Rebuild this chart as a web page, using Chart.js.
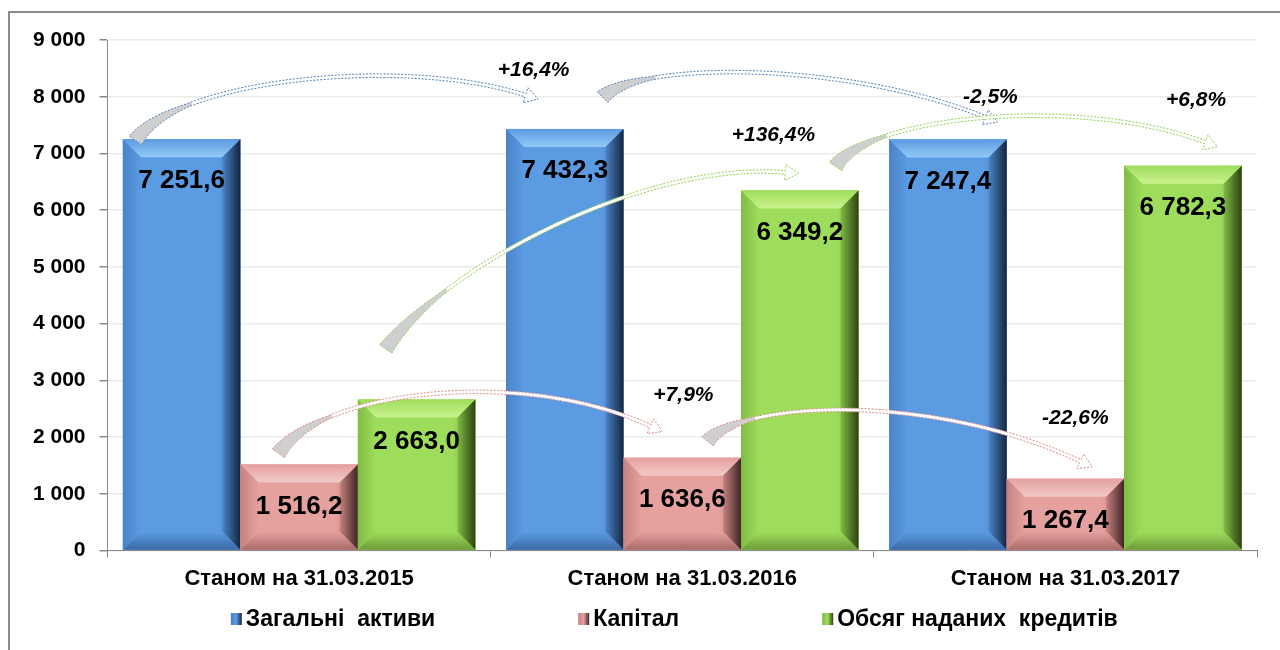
<!DOCTYPE html>
<html>
<head>
<meta charset="utf-8">
<script src="https://cdn.jsdelivr.net/npm/chart.js@4.4.1/dist/chart.umd.min.js"></script>
<style>
  body { margin: 0; background: #fff; }
  canvas { display: block; }
</style>
</head>
<body>
<canvas id="myChart" width="1280" height="650"></canvas>
<script>
// chart values
var categories = ['Станом на 31.03.2015', 'Станом на 31.03.2016', 'Станом на 31.03.2017'];
var seriesNames = ['Загальні  активи', 'Капітал', 'Обсяг наданих  кредитів'];
var assets = [7251.6, 7432.3, 7247.4];
var capital = [1516.2, 1636.6, 1267.4];
var loans = [2663.0, 6349.2, 6782.3];
var assetsChange = ['+16,4%', '-2,5%'];
var capitalChange = ['+7,9%', '-22,6%'];
var loansChange = ['+136,4%', '+6,8%'];
var yMax = 9000;
var yStep = 1000;

// colours for each series: face, top bevel, left bevel, right bevel, bottom bevel, arrow line
var palette = [
  { face: '#5b9be2', top: '#93c9f6', left: '#4a83c8', right: '#14263f', bottom: '#3b6aa6', line: '#4f81bd' },
  { face: '#e4a19e', top: '#f3c9c7', left: '#c6827f', right: '#3d2524', bottom: '#a86a68', line: '#e08a86' },
  { face: '#9edd5c', top: '#c9f28c', left: '#80bb45', right: '#2c4212', bottom: '#6b9a37', line: '#8fd14f' }
];

// curved arrows, in (category index, value) space: 4 bezier points + label anchor
var arrowShapes = [
  [
    { pts: [[-0.427, 7232], [-0.322, 8293], [0.265, 8735], [0.591, 8028]], label: [0.612, 8470] },
    { pts: [[0.792, 7992], [0.891, 8647], [1.439, 8611], [1.791, 7639]], label: [1.804, 7992] }
  ],
  [
    { pts: [[-0.054, 1715], [0.056, 2811], [0.578, 3253], [0.917, 2193]], label: [1.003, 2741] },
    { pts: [[1.066, 1927], [1.152, 2635], [1.648, 2811], [2.039, 1574]], label: [2.026, 2334] }
  ],
  [
    { pts: [[0.226, 3554], [0.369, 4933], [0.891, 6878], [1.269, 6666]], label: [1.238, 7320] },
    { pts: [[1.400, 6772], [1.491, 7674], [2.039, 8027], [2.365, 7197]], label: [2.341, 7939] }
  ]
];
var changes = [assetsChange, capitalChange, loansChange];

function fmt(v, dec) {
  var s = v.toFixed(dec).split('.');
  var n = s[0].replace(/\B(?=(\d{3})+(?!\d))/g, ' ');
  return s.length > 1 ? n + ',' + s[1] : n;
}

function bez(p, t) {
  var u = 1 - t;
  return {
    x: u*u*u*p[0].x + 3*u*u*t*p[1].x + 3*u*t*t*p[2].x + t*t*t*p[3].x,
    y: u*u*u*p[0].y + 3*u*u*t*p[1].y + 3*u*t*t*p[2].y + t*t*t*p[3].y
  };
}
function bezD(p, t) {
  var u = 1 - t;
  return {
    x: 3*u*u*(p[1].x - p[0].x) + 6*u*t*(p[2].x - p[1].x) + 3*t*t*(p[3].x - p[2].x),
    y: 3*u*u*(p[1].y - p[0].y) + 6*u*t*(p[2].y - p[1].y) + 3*t*t*(p[3].y - p[2].y)
  };
}

function drawBevelBar(ctx, el, c) {
  var l = el.x - el.width / 2, r = el.x + el.width / 2, t = el.y, b = el.base;
  var d = Math.min(18, (b - t) / 2);
  // face
  var g = ctx.createLinearGradient(l, 0, r, 0);
  g.addColorStop(0, c.face);
  g.addColorStop(0.35, c.face);
  g.addColorStop(0.8, c.face);
  g.addColorStop(1, c.left);
  ctx.fillStyle = g;
  ctx.fillRect(l, t, r - l, b - t);
  // top
  g = ctx.createLinearGradient(0, t, 0, t + d);
  g.addColorStop(0, c.face);
  g.addColorStop(1, c.top);
  ctx.fillStyle = g;
  ctx.beginPath();
  ctx.moveTo(l, t); ctx.lineTo(r, t); ctx.lineTo(r - d, t + d); ctx.lineTo(l + d, t + d);
  ctx.closePath(); ctx.fill();
  // left
  g = ctx.createLinearGradient(l, 0, l + d, 0);
  g.addColorStop(0, c.left);
  g.addColorStop(1, c.face);
  ctx.fillStyle = g;
  ctx.beginPath();
  ctx.moveTo(l, t); ctx.lineTo(l + d, t + d); ctx.lineTo(l + d, b - d); ctx.lineTo(l, b);
  ctx.closePath(); ctx.fill();
  // right
  g = ctx.createLinearGradient(r - d, 0, r, 0);
  g.addColorStop(0, c.left);
  g.addColorStop(1, c.right);
  ctx.fillStyle = g;
  ctx.beginPath();
  ctx.moveTo(r, t); ctx.lineTo(r, b); ctx.lineTo(r - d, b - d); ctx.lineTo(r - d, t + d);
  ctx.closePath(); ctx.fill();
  // bottom
  g = ctx.createLinearGradient(0, b - d, 0, b);
  g.addColorStop(0, c.face);
  g.addColorStop(1, c.bottom);
  ctx.fillStyle = g;
  ctx.beginPath();
  ctx.moveTo(l, b); ctx.lineTo(r, b); ctx.lineTo(r - d, b - d); ctx.lineTo(l + d, b - d);
  ctx.closePath(); ctx.fill();
}

function drawArrow(ctx, p, color) {
  var N = 80, up = [], lo = [], i;
  for (i = 0; i <= N; i++) {
    var t = i / N;
    var pt = bez(p, t), dv = bezD(p, t);
    var len = Math.sqrt(dv.x * dv.x + dv.y * dv.y);
    var nx = -dv.y / len, ny = dv.x / len;
    var w = t < 0.22 ? 15 - 11.5 * (t / 0.22) : 3.5;
    up.push({ x: pt.x + nx * w / 2, y: pt.y + ny * w / 2 });
    lo.push({ x: pt.x - nx * w / 2, y: pt.y - ny * w / 2 });
  }
  var end = p[3], de = bezD(p, 1);
  var dl = Math.sqrt(de.x * de.x + de.y * de.y);
  var dx = de.x / dl, dy = de.y / dl, nx2 = -dy, ny2 = dx;
  function outline() {
    ctx.beginPath();
    ctx.moveTo(up[0].x, up[0].y);
    for (i = 1; i <= N; i++) ctx.lineTo(up[i].x, up[i].y);
    ctx.lineTo(end.x + nx2 * 8, end.y + ny2 * 8);
    ctx.lineTo(end.x + dx * 13, end.y + dy * 13);
    ctx.lineTo(end.x - nx2 * 8, end.y - ny2 * 8);
    for (i = N; i >= 0; i--) ctx.lineTo(lo[i].x, lo[i].y);
    ctx.closePath();
  }
  ctx.save();
  outline();
  ctx.fillStyle = '#ffffff';
  ctx.fill();
  // grey underside near the tail
  var k = Math.round(N * 0.24);
  ctx.beginPath();
  ctx.moveTo(up[0].x, up[0].y);
  for (i = 1; i <= k; i++) ctx.lineTo(up[i].x, up[i].y);
  for (i = k; i >= 0; i--) ctx.lineTo(lo[i].x, lo[i].y);
  ctx.closePath();
  ctx.fillStyle = '#cfcfcf';
  ctx.fill();
  // dashed outline
  outline();
  ctx.setLineDash([2, 1.5]);
  ctx.lineWidth = 1;
  ctx.strokeStyle = color;
  ctx.stroke();
  ctx.restore();
}

var decorPlugin = {
  id: 'decor',
  beforeDraw: function(chart) {
    var ctx = chart.ctx;
    ctx.save();
    ctx.fillStyle = '#fff';
    ctx.fillRect(0, 0, chart.width, chart.height);
    ctx.strokeStyle = '#8a8a8a';
    ctx.lineWidth = 2;
    ctx.beginPath();
    ctx.moveTo(9, chart.height); ctx.lineTo(9, 12); ctx.lineTo(chart.width, 12);
    ctx.stroke();
    ctx.restore();
  },
  afterDatasetsDraw: function(chart) {
    var ctx = chart.ctx, xs = chart.scales.x, ys = chart.scales.y;
    ctx.save();
    chart.data.datasets.forEach(function(ds, di) {
      chart.getDatasetMeta(di).data.forEach(function(el) {
        drawBevelBar(ctx, el, palette[di]);
      });
    });
    // value labels
    ctx.fillStyle = '#000';
    ctx.font = 'bold 26px "Liberation Sans", Arial, sans-serif';
    ctx.textAlign = 'center';
    ctx.textBaseline = 'middle';
    chart.data.datasets.forEach(function(ds, di) {
      chart.getDatasetMeta(di).data.forEach(function(el, i) {
        ctx.fillText(fmt(ds.data[i], 1), el.x, el.y + 42);
      });
    });
    // arrows and change labels
    arrowShapes.forEach(function(list, di) {
      list.forEach(function(a, j) {
        var p = a.pts.map(function(q) { return { x: xs.getPixelForValue(q[0]), y: ys.getPixelForValue(q[1]) }; });
        drawArrow(ctx, p, palette[di].line);
        ctx.fillStyle = '#000';
        ctx.font = 'italic bold 21px "Liberation Sans", Arial, sans-serif';
        ctx.fillText(changes[di][j], xs.getPixelForValue(a.label[0]), ys.getPixelForValue(a.label[1]));
      });
    });
    ctx.restore();
  },
  afterDraw: function(chart) {
    // legend
    var ctx = chart.ctx, area = chart.chartArea;
    ctx.save();
    ctx.font = 'bold 23px "Liberation Sans", Arial, sans-serif';
    ctx.textBaseline = 'middle';
    ctx.textAlign = 'left';
    var gap = 143, box = 11, pad = 4;
    var widths = seriesNames.map(function(n) { return box + pad + ctx.measureText(n).width; });
    var total = widths.reduce(function(a, b) { return a + b; }, 0) + gap * (widths.length - 1);
    var x = (area.left + area.right) / 2 - 8 - total / 2;
    var y = 619;
    seriesNames.forEach(function(n, i) {
      var c = palette[i];
      var g = ctx.createLinearGradient(x, 0, x + box, 0);
      g.addColorStop(0, c.left); g.addColorStop(0.5, c.face); g.addColorStop(1, c.right);
      ctx.fillStyle = g;
      ctx.fillRect(x, y - 6, box, 12);
      ctx.fillStyle = '#000';
      ctx.fillText(n, x + box + pad, y + 1);
      x += widths[i] + gap;
    });
    ctx.restore();
  }
};

var ctx = document.getElementById('myChart').getContext('2d');
var myChart = new Chart(ctx, {
  type: 'bar',
  data: {
    labels: categories,
    datasets: [
      { label: seriesNames[0], data: assets, backgroundColor: palette[0].face },
      { label: seriesNames[1], data: capital, backgroundColor: palette[1].face },
      { label: seriesNames[2], data: loans, backgroundColor: palette[2].face }
    ]
  },
  options: {
    responsive: false,
    animation: false,
    devicePixelRatio: 1,
    categoryPercentage: 0.92,
    barPercentage: 1.0,
    layout: { padding: { left: 19, right: 23, top: 40, bottom: 50 } },
    plugins: {
      legend: { display: false },
      tooltip: { enabled: false }
    },
    scales: {
      x: {
        grid: { display: true, drawOnChartArea: false, offset: true, tickLength: 7, color: '#8a8a8a' },
        border: { display: true, color: '#8a8a8a', width: 1 },
        ticks: {
          color: '#000',
          padding: 8,
          font: { family: '"Liberation Sans", Arial, sans-serif', size: 22, weight: 'bold' }
        }
      },
      y: {
        min: 0,
        max: yMax,
        grid: { color: '#ebebeb', lineWidth: 1.5, tickColor: '#8a8a8a', tickLength: 8 },
        border: { display: true, color: '#8a8a8a', width: 1 },
        ticks: {
          stepSize: yStep,
          color: '#000',
          padding: 14,
          font: { family: '"Liberation Sans", Arial, sans-serif', size: 21, weight: 'bold' },
          callback: function(v) { return fmt(v, 0); }
        }
      }
    }
  },
  plugins: [decorPlugin]
});
</script>
</body>
</html>
